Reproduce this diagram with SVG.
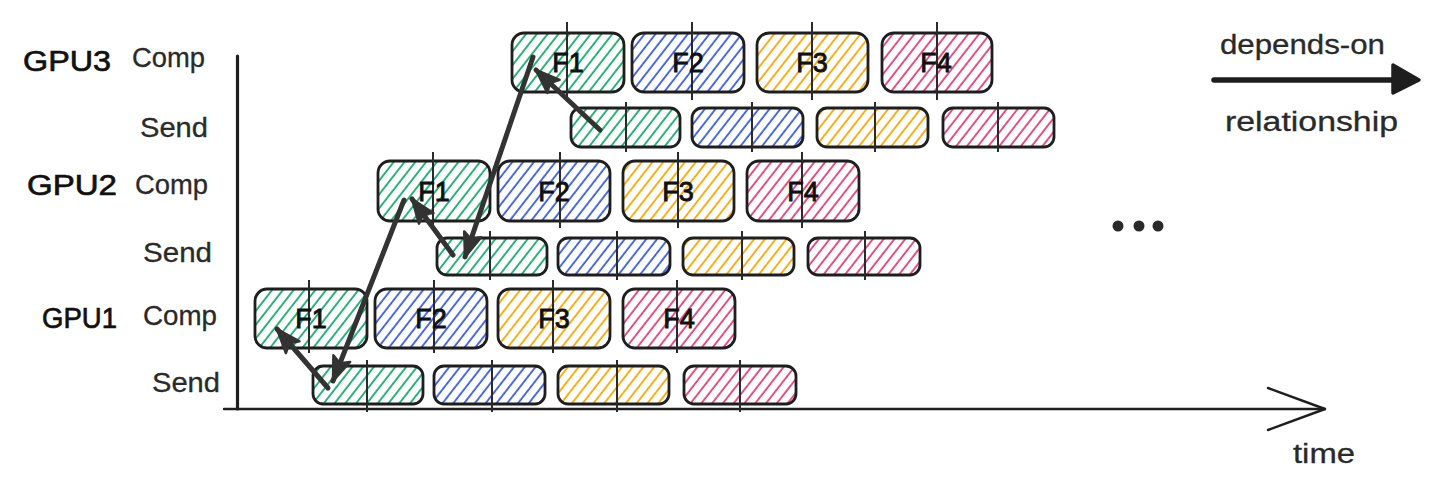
<svg xmlns="http://www.w3.org/2000/svg" width="1438" height="495" viewBox="0 0 1438 495">
<style>
.box{stroke:#1e1e1e;stroke-width:2.8;}
.c1{fill:url(#hg);} .c2{fill:url(#hb);} .c3{fill:url(#hy);} .c4{fill:url(#hp);}
.vl{stroke:#2a2a2a;stroke-width:2;fill:none;}
.ft{font-family:"Liberation Sans",Arial,sans-serif;font-size:27px;fill:#111;text-anchor:middle;stroke:#111;stroke-width:0.9;}
.gl{font-family:"Liberation Sans",Arial,sans-serif;font-size:30px;fill:#111;stroke:#111;stroke-width:0.7;}
.rl{font-family:"Liberation Sans",Arial,sans-serif;font-size:27px;fill:#2a2a2a;stroke:#2a2a2a;stroke-width:0.3;}
.dep{stroke:#333;stroke-width:5;fill:none;stroke-linecap:round;marker-end:url(#ah);}
.ax{stroke:#1e1e1e;fill:none;stroke-linecap:round;stroke-linejoin:round;}
</style>
<defs>
<pattern id="hg" width="8.5" height="8.5" patternUnits="userSpaceOnUse" patternTransform="rotate(38)"><line x1="2" y1="0" x2="2" y2="8.5" stroke="#18a96c" stroke-width="1.8"/></pattern>
<pattern id="hb" width="8.5" height="8.5" patternUnits="userSpaceOnUse" patternTransform="rotate(38)"><line x1="2" y1="0" x2="2" y2="8.5" stroke="#3b5bdb" stroke-width="1.8"/></pattern>
<pattern id="hy" width="8.5" height="8.5" patternUnits="userSpaceOnUse" patternTransform="rotate(38)"><line x1="2" y1="0" x2="2" y2="8.5" stroke="#f5a805" stroke-width="1.8"/></pattern>
<pattern id="hp" width="8.5" height="8.5" patternUnits="userSpaceOnUse" patternTransform="rotate(38)"><line x1="2" y1="0" x2="2" y2="8.5" stroke="#e03f78" stroke-width="1.8"/></pattern>
<marker id="ah" viewBox="0 0 28 22" refX="26" refY="11" markerWidth="28" markerHeight="22" markerUnits="userSpaceOnUse" orient="auto"><path d="M2,2 L26,11 L2,20 L7,11 z" fill="#333" stroke="#333" stroke-width="2.5" stroke-linejoin="round"/></marker>
</defs>
<rect width="1438" height="495" fill="#ffffff"/>

<!-- axes -->
<g id="axes">
<line class="ax" x1="237.5" y1="56" x2="237.5" y2="409" stroke-width="3.2"/>
<line class="ax" x1="224" y1="409" x2="1325" y2="409" stroke-width="2.4"/>
<polyline class="ax" points="1268,388 1325,409 1268,430" stroke-width="2.4"/>
<text class="rl" x="1293" y="463" textLength="62" lengthAdjust="spacingAndGlyphs" font-size="28">time</text>
</g>

<!-- row labels -->
<g id="labels">
<text class="gl" x="23" y="71" textLength="88" lengthAdjust="spacingAndGlyphs">GPU3</text>
<text class="rl" x="132" y="67" textLength="73" lengthAdjust="spacingAndGlyphs">Comp</text>
<text class="rl" x="140" y="137" textLength="68" lengthAdjust="spacingAndGlyphs">Send</text>
<text class="gl" x="27" y="195" textLength="90" lengthAdjust="spacingAndGlyphs">GPU2</text>
<text class="rl" x="135" y="194" textLength="73" lengthAdjust="spacingAndGlyphs">Comp</text>
<text class="rl" x="143" y="262" textLength="69" lengthAdjust="spacingAndGlyphs">Send</text>
<text class="gl" x="42" y="328" textLength="75" lengthAdjust="spacingAndGlyphs">GPU1</text>
<text class="rl" x="143" y="325" textLength="74" lengthAdjust="spacingAndGlyphs">Comp</text>
<text class="rl" x="152" y="392" textLength="68" lengthAdjust="spacingAndGlyphs">Send</text>
</g>

<!-- GPU1 comp -->
<g id="gpu1-comp-f1"><rect class="box c1" x="255" y="289" width="112" height="59" rx="12"/><line class="vl" x1="309" y1="280" x2="309" y2="353"/><text class="ft" x="311" y="328">F1</text></g>
<g id="gpu1-comp-f2"><rect class="box c2" x="375" y="289" width="112" height="59" rx="12"/><line class="vl" x1="434" y1="280" x2="434" y2="353"/><text class="ft" x="431" y="328">F2</text></g>
<g id="gpu1-comp-f3"><rect class="box c3" x="498" y="289" width="112" height="59" rx="12"/><line class="vl" x1="553" y1="280" x2="553" y2="353"/><text class="ft" x="554" y="328">F3</text></g>
<g id="gpu1-comp-f4"><rect class="box c4" x="623" y="289" width="112" height="59" rx="12"/><line class="vl" x1="677" y1="280" x2="677" y2="353"/><text class="ft" x="679" y="328">F4</text></g>
<!-- GPU1 send -->
<g id="gpu1-send-f1"><rect class="box c1" x="313" y="366" width="110" height="38" rx="10"/><line class="vl" x1="367" y1="360" x2="367" y2="412"/></g>
<g id="gpu1-send-f2"><rect class="box c2" x="434" y="366" width="111" height="38" rx="10"/><line class="vl" x1="492" y1="360" x2="492" y2="412"/></g>
<g id="gpu1-send-f3"><rect class="box c3" x="558" y="366" width="111" height="38" rx="10"/><line class="vl" x1="617" y1="360" x2="617" y2="412"/></g>
<g id="gpu1-send-f4"><rect class="box c4" x="684" y="366" width="112" height="38" rx="10"/><line class="vl" x1="740" y1="360" x2="740" y2="412"/></g>

<!-- GPU2 comp -->
<g id="gpu2-comp-f1"><rect class="box c1" x="378" y="161" width="112" height="60" rx="12"/><line class="vl" x1="433" y1="152" x2="433" y2="228"/><text class="ft" x="434" y="201">F1</text></g>
<g id="gpu2-comp-f2"><rect class="box c2" x="498" y="161" width="112" height="60" rx="12"/><line class="vl" x1="560" y1="152" x2="560" y2="228"/><text class="ft" x="554" y="201">F2</text></g>
<g id="gpu2-comp-f3"><rect class="box c3" x="623" y="161" width="111" height="60" rx="12"/><line class="vl" x1="678" y1="152" x2="678" y2="228"/><text class="ft" x="678" y="201">F3</text></g>
<g id="gpu2-comp-f4"><rect class="box c4" x="747" y="161" width="112" height="60" rx="12"/><line class="vl" x1="802" y1="152" x2="802" y2="228"/><text class="ft" x="803" y="201">F4</text></g>
<!-- GPU2 send -->
<g id="gpu2-send-f1"><rect class="box c1" x="437" y="238" width="110" height="37" rx="10"/><line class="vl" x1="490" y1="231" x2="490" y2="280"/></g>
<g id="gpu2-send-f2"><rect class="box c2" x="558" y="238" width="112" height="37" rx="10"/><line class="vl" x1="617" y1="231" x2="617" y2="280"/></g>
<g id="gpu2-send-f3"><rect class="box c3" x="683" y="238" width="111" height="37" rx="10"/><line class="vl" x1="742" y1="231" x2="742" y2="280"/></g>
<g id="gpu2-send-f4"><rect class="box c4" x="808" y="238" width="112" height="37" rx="10"/><line class="vl" x1="865" y1="231" x2="865" y2="280"/></g>

<!-- GPU3 comp -->
<g id="gpu3-comp-f1"><rect class="box c1" x="512" y="33" width="112" height="59" rx="12"/><line class="vl" x1="567" y1="22" x2="567" y2="100"/><text class="ft" x="568" y="72">F1</text></g>
<g id="gpu3-comp-f2"><rect class="box c2" x="632" y="33" width="112" height="59" rx="12"/><line class="vl" x1="692" y1="22" x2="692" y2="100"/><text class="ft" x="688" y="72">F2</text></g>
<g id="gpu3-comp-f3"><rect class="box c3" x="757" y="33" width="111" height="59" rx="12"/><line class="vl" x1="812" y1="22" x2="812" y2="100"/><text class="ft" x="812" y="72">F3</text></g>
<g id="gpu3-comp-f4"><rect class="box c4" x="882" y="33" width="110" height="59" rx="12"/><line class="vl" x1="937" y1="22" x2="937" y2="100"/><text class="ft" x="936" y="72">F4</text></g>
<!-- GPU3 send -->
<g id="gpu3-send-f1"><rect class="box c1" x="571" y="108" width="109" height="39" rx="10"/><line class="vl" x1="626" y1="102" x2="626" y2="152"/></g>
<g id="gpu3-send-f2"><rect class="box c2" x="692" y="108" width="111" height="39" rx="10"/><line class="vl" x1="752" y1="102" x2="752" y2="152"/></g>
<g id="gpu3-send-f3"><rect class="box c3" x="817" y="108" width="111" height="39" rx="10"/><line class="vl" x1="875" y1="102" x2="875" y2="152"/></g>
<g id="gpu3-send-f4"><rect class="box c4" x="943" y="108" width="111" height="39" rx="10"/><line class="vl" x1="998" y1="102" x2="998" y2="152"/></g>

<!-- ellipsis -->
<g id="ellipsis" fill="#2a2a2a">
<circle cx="1118" cy="226" r="5.5"/><circle cx="1139" cy="226" r="5.5"/><circle cx="1158" cy="226" r="5.5"/>
</g>

<!-- legend -->
<g id="legend">
<text class="rl" x="1220" y="54" font-size="31" textLength="165" lengthAdjust="spacingAndGlyphs">depends-on</text>
<line x1="1214" y1="80" x2="1398" y2="80" stroke="#1e1e1e" stroke-width="5.5" stroke-linecap="round"/>
<path d="M1393,65 L1419,80 L1393,93 z" fill="#1e1e1e" stroke="#1e1e1e" stroke-width="3.5" stroke-linejoin="round"/>
<text class="rl" x="1225" y="131" font-size="28" textLength="173" lengthAdjust="spacingAndGlyphs">relationship</text>
</g>

<!-- connectors -->
<g id="connectors">
<line class="dep" x1="328" y1="388" x2="277" y2="329"/>
<line class="dep" x1="404" y1="200" x2="333" y2="381"/>
<line class="dep" x1="453" y1="255" x2="412" y2="199"/>
<line class="dep" x1="533" y1="57" x2="465" y2="257"/>
<line class="dep" x1="600" y1="130" x2="536" y2="70"/>
</g>
</svg>
